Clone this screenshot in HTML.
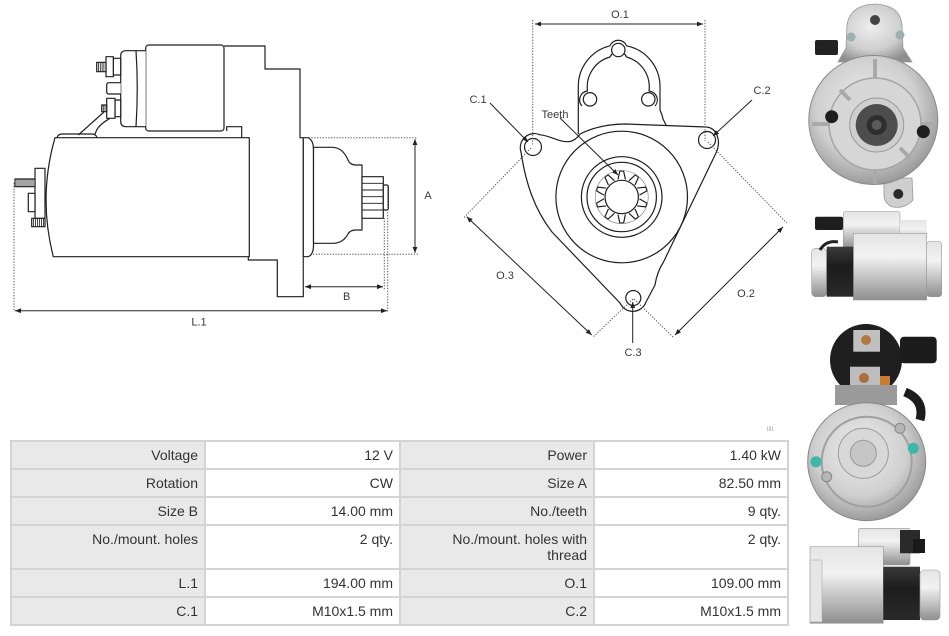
<!DOCTYPE html>
<html><head><meta charset="utf-8">
<style>
html,body{margin:0;padding:0;background:#fff;}
body{width:949px;height:636px;position:relative;overflow:hidden;font-family:"Liberation Sans",sans-serif;}
svg{position:absolute;left:0;top:0;}
#tbl{position:absolute;left:10px;top:440px;width:779px;height:186px;background:#d4d4d4;}
.c{position:absolute;box-sizing:border-box;font-size:14px;line-height:16px;color:#333;text-align:right;padding:5px 6px 0 4px;white-space:nowrap;}
.l{background:#e9e9e9;}
.v{background:#fff;}
</style></head><body>
<svg width="949" height="636" viewBox="0 0 949 636" xmlns="http://www.w3.org/2000/svg">
<defs>
<marker id="ar" viewBox="0 0 10 10" refX="10" refY="5" markerWidth="7" markerHeight="6" markerUnits="userSpaceOnUse" orient="auto-start-reverse"><path d="M0,1 L10,5 L0,9 z" fill="#222"/></marker>
<linearGradient id="sv" x1="0" y1="0" x2="0" y2="1"><stop offset="0" stop-color="#e4e4e4"/><stop offset="0.35" stop-color="#f2f2f2"/><stop offset="0.7" stop-color="#bdbdbd"/><stop offset="1" stop-color="#8e8e8e"/></linearGradient>
<linearGradient id="bk" x1="0" y1="0" x2="0" y2="1"><stop offset="0" stop-color="#3a3a3a"/><stop offset="0.4" stop-color="#1c1c1c"/><stop offset="1" stop-color="#2a2a2a"/></linearGradient>
<radialGradient id="sr" cx="0.45" cy="0.4" r="0.65"><stop offset="0" stop-color="#eeeeee"/><stop offset="0.6" stop-color="#cfcfcf"/><stop offset="1" stop-color="#8f8f8f"/></radialGradient>
</defs>

<!-- ============ LEFT DIAGRAM ============ -->
<g fill="#fff" stroke="#1e1e1e" stroke-width="1.2" stroke-linejoin="round">
  <path d="M224,46 L265,46 L265,69 L300,69 L300,137.7 L303.3,137.7 L303.3,296.7 L277.3,296.7 L277.3,260 L248.3,260 L248.3,256.7" />
  <path d="M226.7,131 L226.7,126.7 L241.7,126.7 L241.7,137.7" fill="none"/>
  <path d="M55,137.7 L249.3,137.7 L249.3,256.7 L53.3,256.7 Q38,197 55,137.7 Z"/>
  <path d="M57,137.7 Q58,134 62,134 L92,134 Q96,134 97,137.7" fill="none"/>
  <rect x="145.7" y="45" width="78.3" height="86" rx="3"/>
  <path d="M145.7,50.7 L126,50.7 Q120.7,50.7 120.7,56 L120.7,121.4 Q120.7,126.7 126,126.7 L145.7,126.7"/>
  <path d="M136,50.7 Q138.5,88 136,126.7" fill="none"/>
  <rect x="113.3" y="58.3" width="7.4" height="16.7"/>
  <rect x="106" y="56.7" width="7.3" height="20"/>
  <rect x="96.7" y="62.3" width="9.3" height="9.4"/>
  <path d="M98.5,62.3V71.7M100.3,62.3V71.7M102.1,62.3V71.7M103.9,62.3V71.7" fill="none" stroke-width="0.8"/>
  <path d="M120.7,82.7 L109,82.7 Q106.7,82.7 106.7,85 L106.7,91.7 Q106.7,94 109,94 L120.7,94"/>
  <rect x="115" y="100" width="5.7" height="16.7"/>
  <rect x="106.7" y="98.3" width="8.3" height="20"/>
  <rect x="101.7" y="105" width="5" height="6.7"/>
  <path d="M103.3,105V111.7M105,105V111.7" fill="none" stroke-width="0.8"/>
  <path d="M104,112 L78.3,135 M110,118.3 Q100,124 96.7,130 L95,134" fill="none"/>
  <rect x="35" y="168.3" width="10" height="50"/>
  <rect x="15" y="179" width="20" height="7.7"/>
  <path d="M17,179V186.7M19,179V186.7M21,179V186.7M23,179V186.7M25,179V186.7M27,179V186.7M29,179V186.7M31,179V186.7M33,179V186.7" fill="none" stroke-width="0.8"/>
  <rect x="28.3" y="193.3" width="6.7" height="18.4"/>
  <rect x="31.7" y="218.3" width="13.3" height="8.4"/>
  <path d="M33.5,218.3V226.7M35.5,218.3V226.7M37.5,218.3V226.7M39.5,218.3V226.7M41.5,218.3V226.7M43.5,218.3V226.7" fill="none" stroke-width="0.8"/>
  <path d="M303.3,137.7 L308,137.7 Q313.5,140 313.5,150 L313.5,245 Q313.5,255 308,256.7 L303.3,256.7 Z"/>
  <path d="M313.5,147.3 L333,147.3 Q343,148 348,160 Q350,165 356,165 L362,165 L362,230 L356,230 Q350,230 348,234 Q343,243.3 333,243.3 L313.5,243.3 Z"/>
  <rect x="362" y="176.7" width="21.3" height="41.6"/>
  <path d="M362,183.3H383.3M362,190H383.3M362,196.7H383.3M362,203.3H383.3M362,210H383.3" fill="none" stroke-width="0.9"/>
  <rect x="383.3" y="185" width="5" height="25" rx="1.5"/>
</g>
<g fill="none" stroke="#555" stroke-width="1" stroke-dasharray="1.3 1.5">
  <path d="M303,137.7H417 M313,254.3H418 M303.3,257V290 M384.3,218V290 M14,183V312 M387.7,187V312"/>
</g>
<g fill="none" stroke="#222" stroke-width="1">
  <path d="M415,139V253" marker-start="url(#ar)" marker-end="url(#ar)"/>
  <path d="M305,286.7H383" marker-start="url(#ar)" marker-end="url(#ar)"/>
  <path d="M15,310.7H387" marker-start="url(#ar)" marker-end="url(#ar)"/>
</g>
<g font-family="Liberation Sans, sans-serif" font-size="11" fill="#3a3a3a" text-anchor="middle">
  <text x="428" y="199">A</text>
  <text x="346.7" y="300">B</text>
  <text x="199" y="325.5">L.1</text>
</g>

<!-- ============ MIDDLE DIAGRAM ============ -->
<g fill="#fff" stroke="#1e1e1e" stroke-width="1.2" stroke-linejoin="round">
  <path d="M578.3,134 L578.3,86.7 A41.7,41.7 0 0 1 610,45.8 A9,9 0 0 1 626.6,45.8 A41.7,41.7 0 0 1 660,86.7 L660,110 L662,115 L663,119 L666.5,126"/>
  <path d="M582,106 A9,9 0 0 1 587.5,91 A31,31 0 0 1 610,57 A9,9 0 0 1 626.6,57 A31,31 0 0 1 649,91 A9,9 0 0 1 655,106" fill="none"/>
  <circle cx="618.3" cy="50" r="6.7"/>
  <circle cx="590" cy="99.3" r="6.7"/>
  <circle cx="648.3" cy="99.3" r="6.7"/>
  <path d="M521,152 A14,14 0 0 1 540,134.8 C552,136 560,143 570,141.5 Q576,140 580,134 Q600,124 626,124 L706,127 C716,127 722,140 716,153 L663.5,262 Q657,272 655,285 L646,302 A14,14 0 0 1 620,303 L552,232 C535,210 526,185 521,152 Z"/>
  <circle cx="533" cy="147" r="8.5"/>
  <circle cx="707" cy="140" r="8.5"/>
  <circle cx="633.3" cy="298" r="7.5"/>
  <circle cx="621.7" cy="197" r="65.8"/>
  <circle cx="621.7" cy="197" r="40.3"/>
  <circle cx="621.7" cy="197" r="34.7"/>
  <g>
    <path d="M618,179.5 L619.8,171 L623.6,171 L625.4,179.5" fill="none"/>
    <path d="M618,179.5 L619.8,171 L623.6,171 L625.4,179.5" fill="none" transform="rotate(36 621.7 197)"/>
    <path d="M618,179.5 L619.8,171 L623.6,171 L625.4,179.5" fill="none" transform="rotate(72 621.7 197)"/>
    <path d="M618,179.5 L619.8,171 L623.6,171 L625.4,179.5" fill="none" transform="rotate(108 621.7 197)"/>
    <path d="M618,179.5 L619.8,171 L623.6,171 L625.4,179.5" fill="none" transform="rotate(144 621.7 197)"/>
    <path d="M618,179.5 L619.8,171 L623.6,171 L625.4,179.5" fill="none" transform="rotate(180 621.7 197)"/>
    <path d="M618,179.5 L619.8,171 L623.6,171 L625.4,179.5" fill="none" transform="rotate(216 621.7 197)"/>
    <path d="M618,179.5 L619.8,171 L623.6,171 L625.4,179.5" fill="none" transform="rotate(252 621.7 197)"/>
    <path d="M618,179.5 L619.8,171 L623.6,171 L625.4,179.5" fill="none" transform="rotate(288 621.7 197)"/>
    <path d="M618,179.5 L619.8,171 L623.6,171 L625.4,179.5" fill="none" transform="rotate(324 621.7 197)"/>
  </g>
  <circle cx="621.7" cy="197" r="26.5" fill="none" stroke-width="0.6" stroke="#777"/>
  <circle cx="621.7" cy="197" r="16.7"/>
</g>
<g fill="none" stroke="#555" stroke-width="1" stroke-dasharray="1.3 1.5">
  <path d="M532.7,20V145 M705,20V141 M531,148L463,218.5 M633,299L593,337 M708,142L786.7,223 M634,299L673,337"/>
</g>
<g fill="none" stroke="#222" stroke-width="1">
  <path d="M535,24H703" marker-start="url(#ar)" marker-end="url(#ar)"/>
  <path d="M466.7,216.7L591.7,335" marker-start="url(#ar)" marker-end="url(#ar)"/>
  <path d="M783,227L675,335" marker-start="url(#ar)" marker-end="url(#ar)"/>
  <path d="M490,103L528,142" marker-end="url(#ar)"/>
  <path d="M752,100L713,136" marker-end="url(#ar)"/>
  <path d="M560,118L618,175" marker-end="url(#ar)"/>
  <path d="M632.7,343V302" marker-end="url(#ar)"/>
</g>
<g font-family="Liberation Sans, sans-serif" font-size="11" fill="#3a3a3a" text-anchor="middle">
  <text x="620" y="18">O.1</text>
  <text x="478" y="103">C.1</text>
  <text x="762" y="94">C.2</text>
  <text x="555" y="118">Teeth</text>
  <text x="633" y="356">C.3</text>
  <text x="505" y="279">O.3</text>
  <text x="746" y="297">O.2</text>
</g>
<text x="770" y="431" font-family="Liberation Serif, serif" font-size="6" fill="#999" text-anchor="middle">llll</text>

<!-- ============ PHOTOS ============ -->
<g>
  <path d="M838,62 L846,48 L847,25 Q850,5 875,4 Q900,5 902,25 L903,48 L912,62 Z" fill="url(#sr)" stroke="#9a9a9a" stroke-width="0.8"/>
  <circle cx="875" cy="20" r="5" fill="#444"/>
  <circle cx="851" cy="37" r="4.5" fill="#9cb0b0"/>
  <circle cx="900" cy="35" r="4.5" fill="#9cb0b0"/>
  <rect x="815" y="40" width="23" height="15" rx="2" fill="#222"/>
  <path d="M884,178 L912,178 L913,200 Q905,209 893,207 Q884,204 884,195 Z" fill="#cfcfcf" stroke="#999" stroke-width="0.8"/>
  <circle cx="873.3" cy="120" r="64.5" fill="url(#sr)" stroke="#8a8a8a" stroke-width="1"/>
  <circle cx="875" cy="124" r="46" fill="#d6d6d6" stroke="#a5a5a5" stroke-width="1.5"/>
  <path d="M875,59V78 M875,170V184 M812,124H830 M920,124H936 M840,90L850,100 M910,158L900,148" stroke="#a9a9a9" stroke-width="4" fill="none"/>
  <circle cx="876.7" cy="125" r="27" fill="#cfcfcf" stroke="#9a9a9a"/>
  <circle cx="876.7" cy="125" r="21" fill="#4d4d4d"/>
  <circle cx="876.7" cy="125" r="10" fill="#2e2e2e"/>
  <circle cx="876.7" cy="125" r="5" fill="#5a5a5a"/>
  <circle cx="831.7" cy="116.7" r="6.5" fill="#1e1e1e"/>
  <circle cx="923.3" cy="131.7" r="6.5" fill="#1e1e1e"/>
  <circle cx="898.3" cy="194" r="5" fill="#2a2a2a"/>
</g>
<g>
  <rect x="843.3" y="211.7" width="56.7" height="36.6" rx="2" fill="url(#sv)" stroke="#999" stroke-width="0.6"/>
  <rect x="900" y="220" width="26.7" height="26.7" fill="url(#sv)"/>
  <rect x="815" y="216.7" width="28" height="13.3" rx="2" fill="#1e1e1e"/>
  <rect x="853.3" y="233.3" width="73.4" height="66.7" fill="url(#sv)" stroke="#999" stroke-width="0.6"/>
  <rect x="926.7" y="241.7" width="15" height="55" rx="3" fill="url(#sv)" stroke="#999" stroke-width="0.6"/>
  <rect x="811.7" y="248.3" width="15" height="48.4" rx="4" fill="url(#sv)" stroke="#999" stroke-width="0.6"/>
  <rect x="826.7" y="246.7" width="26.6" height="50" fill="url(#bk)"/>
  <path d="M820,250 Q826,240 838,242" stroke="#222" stroke-width="3" fill="none"/>
</g>
<g>
  <circle cx="866" cy="360" r="36" fill="#1f1f1f"/>
  <rect x="853.3" y="330" width="26.7" height="21.7" fill="#c0c0c0"/>
  <circle cx="866" cy="340" r="5" fill="#b07a40"/>
  <rect x="850" y="366.7" width="30" height="23.3" fill="#bdbdbd"/>
  <circle cx="864" cy="378" r="5" fill="#a8703a"/>
  <rect x="880" y="376" width="10" height="14" fill="#c77a30"/>
  <rect x="900" y="336.7" width="36.7" height="26.6" rx="4" fill="#1c1c1c"/>
  <path d="M905,392 Q925,400 920,420" stroke="#1c1c1c" stroke-width="9" fill="none"/>
  <rect x="835" y="385" width="62" height="20" fill="#9a9a9a"/>
  <circle cx="866.7" cy="461.7" r="59" fill="url(#sr)" stroke="#888" stroke-width="1"/>
  <circle cx="866.7" cy="461.7" r="45" fill="none" stroke="#a0a0a0" stroke-width="2"/>
  <circle cx="863.3" cy="453.3" r="25" fill="#d8d8d8" stroke="#9c9c9c"/>
  <circle cx="863.3" cy="453.3" r="13" fill="#c6c6c6" stroke="#999"/>
  <circle cx="816" cy="461.7" r="5.5" fill="#3cb8a8"/>
  <circle cx="913.3" cy="448.3" r="5.5" fill="#3cb8a8"/>
  <circle cx="900" cy="428.3" r="5" fill="#b5b5b5" stroke="#888"/>
  <circle cx="826.7" cy="476.7" r="5" fill="#b5b5b5" stroke="#888"/>
</g>
<g>
  <rect x="858.3" y="528.3" width="51.7" height="36.7" rx="2" fill="url(#sv)" stroke="#999" stroke-width="0.6"/>
  <rect x="900" y="530" width="20" height="23.3" fill="#2a2a2a"/>
  <rect x="913" y="539" width="12" height="14" fill="#1a1a1a"/>
  <rect x="810" y="546.7" width="73.3" height="76.6" fill="url(#sv)" stroke="#999" stroke-width="0.6"/>
  <rect x="810" y="560" width="12" height="62" fill="#e6e6e6" stroke="#aaa" stroke-width="0.6"/>
  <rect x="883.3" y="566.7" width="36.7" height="53.3" fill="url(#bk)"/>
  <rect x="920" y="570" width="20" height="50" rx="4" fill="url(#sv)" stroke="#999" stroke-width="0.6"/>
</g>
</svg>

<div id="tbl">
  <div class="c l" style="left:2px;top:2px;width:192px;height:26px;">Voltage</div>
  <div class="c v" style="left:196px;top:2px;width:193px;height:26px;">12 V</div>
  <div class="c l" style="left:391px;top:2px;width:192px;height:26px;">Power</div>
  <div class="c v" style="left:585px;top:2px;width:192px;height:26px;">1.40 kW</div>
  <div class="c l" style="left:2px;top:30px;width:192px;height:26px;">Rotation</div>
  <div class="c v" style="left:196px;top:30px;width:193px;height:26px;">CW</div>
  <div class="c l" style="left:391px;top:30px;width:192px;height:26px;">Size A</div>
  <div class="c v" style="left:585px;top:30px;width:192px;height:26px;">82.50 mm</div>
  <div class="c l" style="left:2px;top:58px;width:192px;height:26px;">Size B</div>
  <div class="c v" style="left:196px;top:58px;width:193px;height:26px;">14.00 mm</div>
  <div class="c l" style="left:391px;top:58px;width:192px;height:26px;">No./teeth</div>
  <div class="c v" style="left:585px;top:58px;width:192px;height:26px;">9 qty.</div>
  <div class="c l" style="left:2px;top:86px;width:192px;height:42px;">No./mount. holes</div>
  <div class="c v" style="left:196px;top:86px;width:193px;height:42px;">2 qty.</div>
  <div class="c l" style="left:391px;top:86px;width:192px;height:42px;">No./mount. holes with<br>thread</div>
  <div class="c v" style="left:585px;top:86px;width:192px;height:42px;">2 qty.</div>
  <div class="c l" style="left:2px;top:130px;width:192px;height:26px;">L.1</div>
  <div class="c v" style="left:196px;top:130px;width:193px;height:26px;">194.00 mm</div>
  <div class="c l" style="left:391px;top:130px;width:192px;height:26px;">O.1</div>
  <div class="c v" style="left:585px;top:130px;width:192px;height:26px;">109.00 mm</div>
  <div class="c l" style="left:2px;top:158px;width:192px;height:26px;">C.1</div>
  <div class="c v" style="left:196px;top:158px;width:193px;height:26px;">M10x1.5 mm</div>
  <div class="c l" style="left:391px;top:158px;width:192px;height:26px;">C.2</div>
  <div class="c v" style="left:585px;top:158px;width:192px;height:26px;">M10x1.5 mm</div>
</div>
</body></html>
